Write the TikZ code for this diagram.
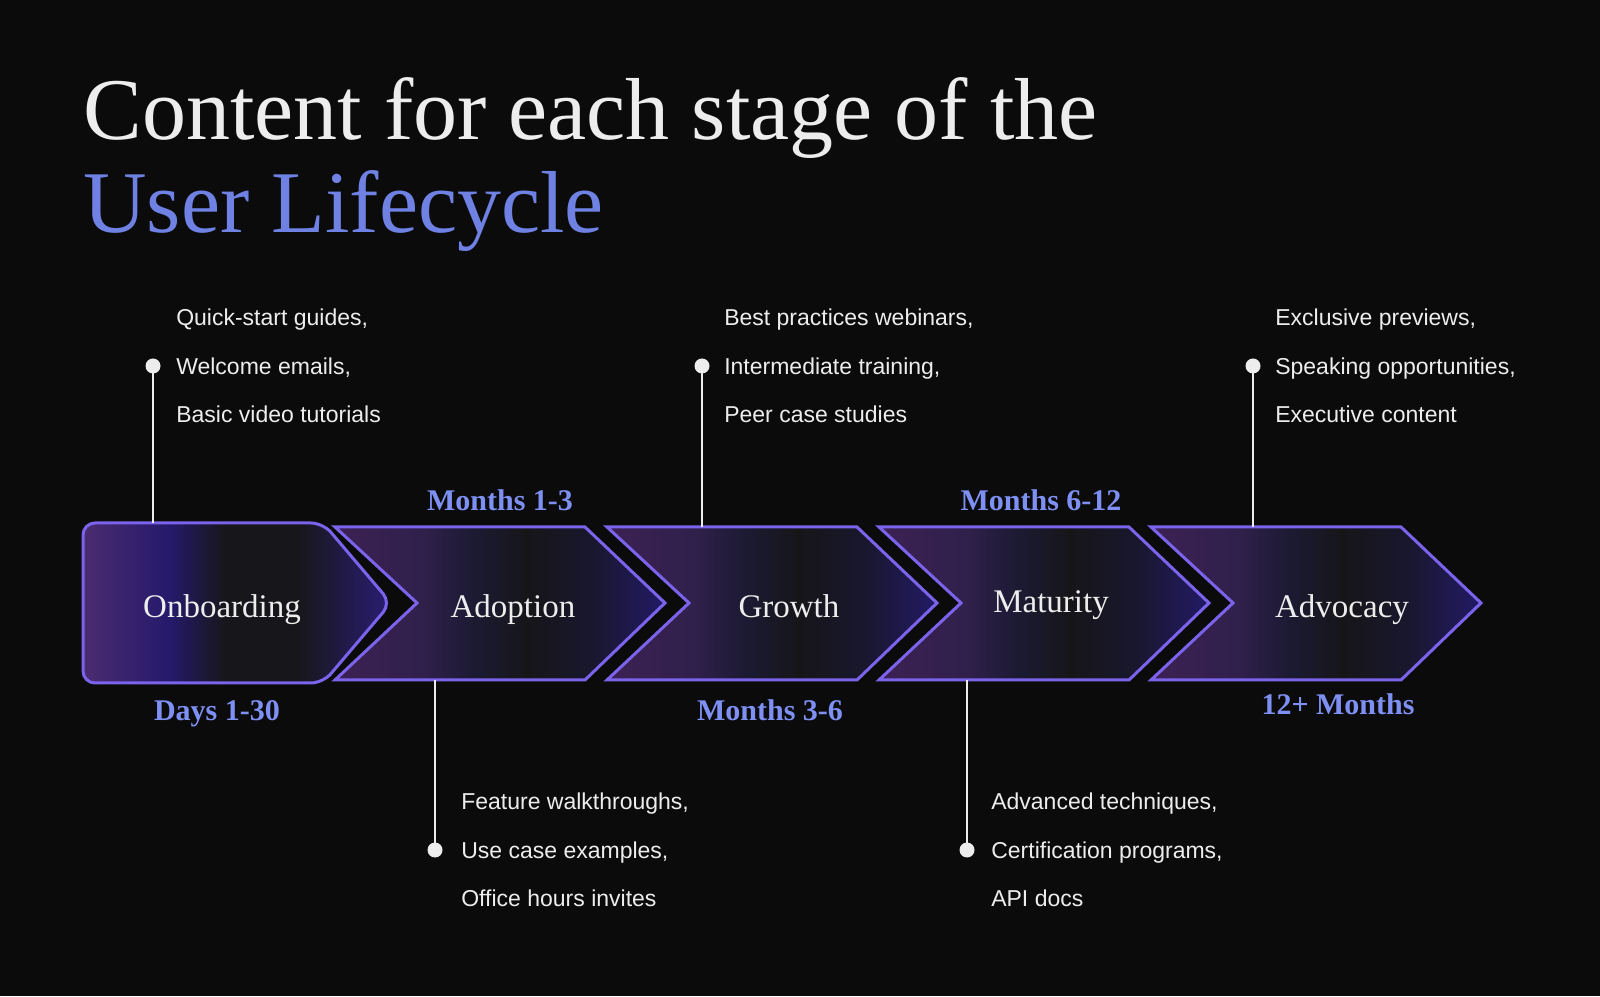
\documentclass[tikz,border=0pt]{standalone}
\usepackage{fontspec}
\setmainfont{Liberation Serif}
\setsansfont{Liberation Sans}
\usetikzlibrary{positioning}

\definecolor{bgcol}{HTML}{0B0B0C}
\definecolor{ink}{HTML}{EDEDED}
\definecolor{lilac}{HTML}{6F82E4}
\definecolor{datecol}{HTML}{7F90F4}
\definecolor{edge}{HTML}{7C63EC}
% fill colours, left to right
\definecolor{onbA}{HTML}{4B2C70}
\definecolor{onbB}{HTML}{25196B}
\definecolor{onbD}{HTML}{17171B}
\definecolor{onbE}{HTML}{2A1D74}
\definecolor{stA}{HTML}{3C2154}
\definecolor{stB}{HTML}{30204C}
\definecolor{stC}{HTML}{1C1A33}
\definecolor{stD}{HTML}{161619}
\definecolor{stE}{HTML}{19172E}
\definecolor{stF}{HTML}{231A66}

% used with shading angle=180: 75bp is the left end, 25bp the right end
\pgfdeclarehorizontalshading{onbfill}{100bp}{color(0bp)=(onbE); color(25bp)=(onbE);
  color(40bp)=(onbD); color(52bp)=(onbD); color(61bp)=(onbB); color(75bp)=(onbA); color(100bp)=(onbA)}
\pgfdeclarehorizontalshading{stagefill}{100bp}{color(0bp)=(stF); color(25bp)=(stF);
  color(36bp)=(stE); color(46bp)=(stD); color(54bp)=(stC); color(62bp)=(stB); color(75bp)=(stA); color(100bp)=(stA)}

\begin{document}
\begin{tikzpicture}[x=0.5pt, y=0.5pt,
  stage/.style={shading=stagefill, shading angle=180, draw=edge, line width=1.5pt},
  stagelbl/.style={font=\fontsize{16.5}{19}\selectfont, text=ink, inner sep=0pt, anchor=base},
  period/.style={font=\bfseries\fontsize{15}{18}\selectfont, text=datecol, inner sep=0pt, anchor=base},
  dot/.style={circle, fill=ink, inner sep=0pt, minimum size=7.5pt},
  stem/.style={draw=ink, line width=1pt},
  items/.style={font=\sffamily\fontsize{11.5}{24.25}\selectfont, text=ink, align=left, inner sep=0pt},
  headline/.style={font=\fontsize{44}{54}\selectfont, text=ink, inner sep=0pt, anchor=base west},
]

% background
\fill[bgcol] (0,0) rectangle (1600,996);

% heading
\node[headline] (ttl) at (83,856) {Content for each stage of the};
\node[headline, text=lilac] (ttl2) at (83,763) {User Lifecycle};

% first stage, rounded
\shadedraw[stage, shading=onbfill, rounded corners=6pt]
  (83,473) -- (323,473) -- (391,393) -- (323,313) -- (83,313) -- cycle;
\node[stagelbl] (onb) at (222,378) {Onboarding};

% remaining stages
\foreach \l/\cx/\ty/\nm/\txt in {335/513/378/adp/Adoption, 607/789/378/grw/Growth,
                                 879/1051/383/mat/Maturity, 1151/1342/378/adv/Advocacy} {
  \shadedraw[stage] (\l,469) -- ++(250,0) -- ++(80,-76) -- ++(-80,-77) -- ++(-250,0) -- ++(82,77) -- cycle;
  \node[stagelbl] (\nm) at (\cx,\ty) {\txt};
}

% time spans
\node[period] (p1) at (217,275) {Days 1-30};
\node[period] (p2) at (500,485) {Months 1-3};
\node[period] (p3) at (770,275) {Months 3-6};
\node[period] (p4) at (1041,485) {Months 6-12};
\node[period] (p5) at (1338,281) {12+ Months};

% content above the arrows
\coordinate (c1) at (153,473);
\coordinate (c3) at (702,469);
\coordinate (c5) at (1253,469);
\node[dot] (d1) at (153,630) {};
\node[dot] (d3) at (702,630) {};
\node[dot] (d5) at (1253,630) {};
\draw[stem] (d1.center) -- (c1);
\draw[stem] (d3.center) -- (c3);
\draw[stem] (d5.center) -- (c5);
\node[items, right=7.5pt of d1] (t1) {Quick-start guides,\\Welcome emails,\\Basic video tutorials};
\node[items, right=7pt of d3] (t3) {Best practices webinars,\\Intermediate training,\\Peer case studies};
\node[items, right=7pt of d5] (t5) {Exclusive previews,\\Speaking opportunities,\\Executive content};

% content below the arrows
\coordinate (c2) at (435,316);
\coordinate (c4) at (967,316);
\node[dot] (d2) at (435,146) {};
\node[dot] (d4) at (967,146) {};
\draw[stem] (c2) -- (d2.center);
\draw[stem] (c4) -- (d4.center);
\node[items, right=9pt of d2] (t2) {Feature walkthroughs,\\Use case examples,\\Office hours invites};
\node[items, right=8pt of d4] (t4) {Advanced techniques,\\Certification programs,\\API docs};

\end{tikzpicture}
\end{document}
